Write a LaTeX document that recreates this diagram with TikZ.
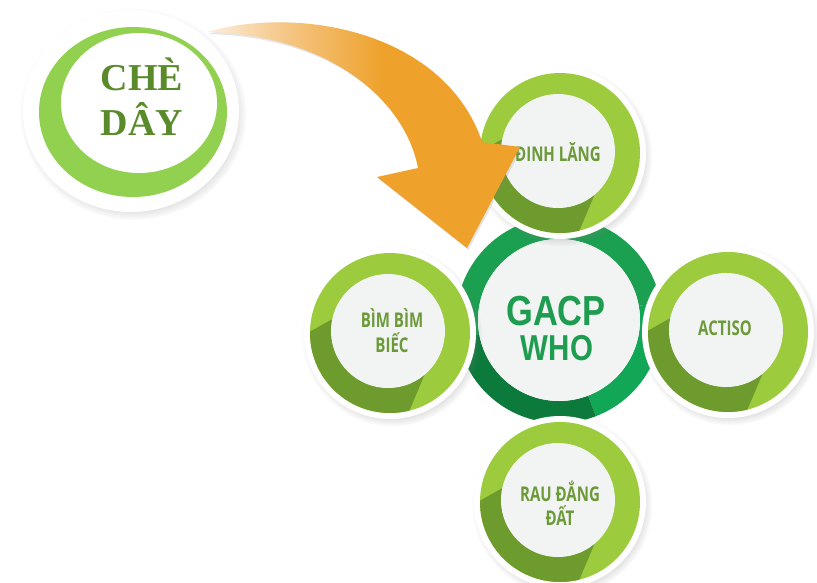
\documentclass[tikz,border=0pt]{standalone}
\usepackage{fontspec}
\setmainfont{Liberation Serif}
\newfontfamily\satfont[FakeStretch=0.74]{Open Sans}
\newfontfamily\gacpfont[FakeStretch=0.82]{Liberation Sans}
\usetikzlibrary{shadows,calc}
\definecolor{ringlight}{HTML}{9CCB3D}
\definecolor{ringdark}{HTML}{6E9B2E}
\definecolor{innergray}{HTML}{F2F3F3}
\definecolor{sattext}{HTML}{6C9A38}
\definecolor{chering}{HTML}{92D050}
\definecolor{chetext}{HTML}{5A8B2A}
\definecolor{gtop}{HTML}{1B9F50}
\definecolor{gdark}{HTML}{0B7A3B}
\definecolor{gbright}{HTML}{12A757}
\definecolor{gtext}{HTML}{1E9C50}
\definecolor{orng}{HTML}{EEA22C}
\definecolor{peachA}{HTML}{FDEEDD}
\definecolor{peachB}{HTML}{F4C582}
\pgfdeclarehorizontalshading{arrowshade}{100bp}{color(0bp)=(peachA); color(25bp)=(peachA); color(38bp)=(peachB); color(53bp)=(orng); color(100bp)=(orng)}
\tikzset{
  satshadow/.style={circular drop shadow={shadow xshift=2pt, shadow yshift=-3pt, shadow scale=1.05, opacity=0.35}},
  sattxt/.style={text=sattext, font=\satfont\bfseries\fontsize{20.3}{24}\selectfont, anchor=base, inner sep=0pt},
  gtxt/.style={text=gtext, anchor=base, inner sep=0pt},
  chetxt/.style={text=chetext, font=\bfseries\fontsize{38}{44}\selectfont, anchor=base, inner sep=0pt},
}
\begin{document}
\begin{tikzpicture}[x=1pt,y=-1pt]
\useasboundingbox (0,0) rectangle (817,582);
\fill[white] (0,0) rectangle (817,582);

% ---- CHE DAY ----
\coordinate (cc) at (131,111);
\fill[white, satshadow] (cc) ellipse[x radius=108, y radius=101];
\fill[chering] (133,112) ellipse[x radius=94, y radius=85];
\fill[white] (139,103) ellipse[x radius=78, y radius=70];
\node[chetxt] (che1) at (142,90) {CHÈ};
\node[chetxt] (che2) at (142,135) {DÂY};

% ---- GACP centre ----
\coordinate (g) at (559,320);
\fill[white] (g) circle[radius=107];
\fill[gtop] ($(g)+(170:103)$) arc[start angle=170, end angle=350, radius=103]
   -- ($(g)+(350:81)$) arc[start angle=350, end angle=170, radius=81] -- cycle;
\fill[gbright] ($(g)+(-10:103)$) arc[start angle=-10, end angle=69, radius=103]
   -- ($(g)+(69:81)$) arc[start angle=69, end angle=-10, radius=81] -- cycle;
\fill[gdark] ($(g)+(69:103)$) arc[start angle=69, end angle=170, radius=103]
   -- ($(g)+(170:81)$) arc[start angle=170, end angle=69, radius=81] -- cycle;
\node[circle, fill=innergray, minimum size=162pt, inner sep=0pt] (gacp) at (g) {};
\node[gtxt, font=\gacpfont\bfseries\fontsize{42}{48}\selectfont] (gacp1) at (556,325) {GACP};
\node[gtxt, font=\gacpfont\bfseries\fontsize{36}{42}\selectfont] (gacp2) at (557,360) {WHO};

% ---- satellites ----
\foreach \x/\y in {560/153, 390/333, 728/332, 560/502}{
  \fill[white, satshadow] (\x,\y) circle[radius=86];
  \fill[ringlight] (\x,\y) circle[radius=80];
  \fill[ringdark] ($(\x,\y)+(181:80)$) arc[start angle=181, end angle=76, radius=80]
     -- ($(\x-2,\y-2)+(50:57)$) arc[start angle=50, end angle=192, radius=57] -- cycle;
  \fill[innergray] (\x-2,\y-2) circle[radius=57];
}
\node[sattxt] (dinh) at (558,161) {ĐINH LĂNG};
\node[sattxt] (bim1) at (392,327) {BÌM BÌM};
\node[sattxt] (bim2) at (392,352) {BIẾC};
\node[sattxt] (acti) at (725,335) {ACTISO};
\node[sattxt] (rau1) at (560,501) {RAU ĐẮNG};
\node[sattxt] (rau2) at (560,525) {ĐẤT};

% ---- orange arrow ----
\coordinate (tail) at (207,32);
\coordinate (neckR) at (482,142);
\coordinate (barbR) at (520,147);
\coordinate (tip) at (467,248);
\coordinate (barbL) at (377,177);
\coordinate (neckL) at (418,168);
\shade[shading=arrowshade, drop shadow={shadow xshift=1.5pt, shadow yshift=-2pt, opacity=0.2}]
  (tail) .. controls (300,5) and (445,32) .. (neckR) -- (barbR) -- (tip) -- (barbL) -- (neckL)
  .. controls (405,100) and (330,35) .. (tail) -- cycle;
\end{tikzpicture}
\end{document}
